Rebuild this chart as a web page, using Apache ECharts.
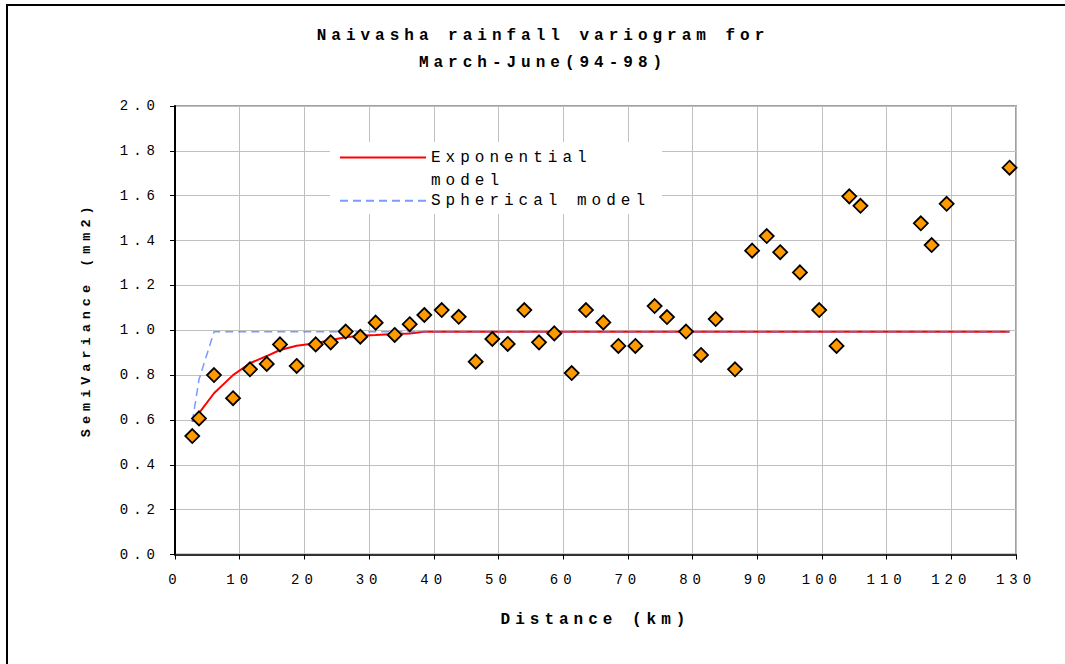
<!DOCTYPE html>
<html>
<head>
<meta charset="utf-8">
<script src="https://cdn.jsdelivr.net/npm/echarts@6.0.0/dist/echarts.min.js"></script>
<style>
  html, body { margin: 0; padding: 0; background: #fff; }
  #chart { width: 1065px; height: 664px; letter-spacing: 5px; }
</style>
</head>
<body>
<div id="chart"></div>
<script>
// Observed semivariance
const distance = [2.67, 3.71, 6.03, 8.97, 11.59, 14.18, 16.23, 18.81, 21.75, 24.07, 26.39, 28.64, 31.02, 33.96, 36.28, 38.54, 41.23, 43.86, 46.48, 49.05, 51.43, 54.0, 56.27, 58.63, 61.32, 63.53, 66.21, 68.53, 71.16, 74.14, 76.05, 78.99, 81.31, 83.58, 86.57, 89.21, 91.47, 93.55, 96.6, 99.58, 102.26, 104.23, 105.96, 115.29, 116.96, 119.28, 129.0];
const semivariance = [0.528, 0.607, 0.800, 0.697, 0.826, 0.850, 0.937, 0.841, 0.937, 0.946, 0.994, 0.971, 1.034, 0.979, 1.027, 1.068, 1.090, 1.060, 0.860, 0.961, 0.939, 1.090, 0.946, 0.986, 0.809, 1.090, 1.035, 0.930, 0.930, 1.108, 1.059, 0.994, 0.890, 1.050, 0.826, 1.355, 1.420, 1.348, 1.258, 1.090, 0.930, 1.597, 1.555, 1.477, 1.380, 1.564, 1.725];

// Exponential model
const expDistance = [2.67, 3.71, 6.03, 8.97, 11.59, 14.18, 16.23, 18.81, 21.75, 24.07, 26.39, 28.64, 31.02, 33.96, 36.28, 38.54, 129.0];
const expValue = [0.592, 0.63, 0.719, 0.80, 0.853, 0.885, 0.912, 0.931, 0.942, 0.957, 0.969, 0.976, 0.979, 0.983, 0.986, 0.993, 0.993];

// Spherical model
const sphDistance = [2.67, 3.71, 6.03, 129.0];
const sphValue = [0.592, 0.78, 0.993, 0.993];

const xTicks = [0, 10, 20, 30, 40, 50, 60, 70, 80, 90, 100, 110, 120, 130];
const yTicks = [0.0, 0.2, 0.4, 0.6, 0.8, 1.0, 1.2, 1.4, 1.6, 1.8, 2.0];

const titleText = 'Naivasha rainfall variogram for\nMarch-June(94-98)';
const xName = 'Distance (km)';
const yName = 'SemiVariance (mm2)';
const expName = 'Exponential model';
const sphName = 'Spherical model';

const zip = (a, b) => a.map((v, i) => [v, b[i]]);
const FONT = '"Liberation Mono", "DejaVu Sans Mono", monospace';

const chart = echarts.init(document.getElementById('chart'), null, { renderer: 'svg' });
chart.setOption({
  animation: false,
  backgroundColor: '#fff',
  title: {
    text: titleText,
    left: 538,
    top: 17,
    textAlign: 'center',
    textStyle: { fontFamily: FONT, fontWeight: 'bold', fontSize: 16, lineHeight: 27, color: '#000' }
  },
  graphic: [
    { type: 'rect', z: 0, silent: true, shape: { x: 7, y: 5, width: 1200, height: 1000 },
      style: { fill: 'none', stroke: '#000', lineWidth: 2 } },
    { type: 'rect', z: 3, silent: true, shape: { x: 330, y: 142, width: 332, height: 72 },
      style: { fill: '#fff', stroke: 'none' } }
  ],
  legend: [
    {
      data: [expName], left: 339, top: 122, padding: 0, itemWidth: 86, itemHeight: 14, z: 5,
      itemStyle: { opacity: 0 },
      formatter: () => ' \nExponential\nmodel',
      textStyle: { fontFamily: FONT, fontSize: 16, lineHeight: 23.7, color: '#000' }
    },
    {
      data: [sphName], left: 339, top: 189, padding: 0, itemWidth: 86, itemHeight: 14, z: 5,
      itemStyle: { opacity: 0 },
      textStyle: { fontFamily: FONT, fontSize: 16, lineHeight: 23.7, color: '#000' }
    }
  ],
  grid: {
    left: 175, right: 49, top: 106, bottom: 109.5,
    show: true, borderColor: '#a0a0a0', borderWidth: 2, backgroundColor: 'transparent'
  },
  xAxis: {
    type: 'value', min: xTicks[0], max: xTicks[xTicks.length - 1], interval: 10,
    name: xName, nameLocation: 'middle', nameGap: 57,
    nameTextStyle: { fontFamily: FONT, fontWeight: 'bold', fontSize: 16, color: '#000' },
    axisLine: { show: true, onZero: false, lineStyle: { color: '#333', width: 2 } },
    axisTick: { show: true, inside: false, length: 5, lineStyle: { color: '#000', width: 1 } },
    axisLabel: { margin: 18.5, interval: 0, fontFamily: FONT, fontSize: 14, color: '#000',
      formatter: v => String(v) },
    splitLine: { show: true, lineStyle: { color: '#c0c0c0', width: 1 } }
  },
  yAxis: {
    type: 'value', min: yTicks[0], max: yTicks[yTicks.length - 1], interval: 0.2,
    name: yName, nameLocation: 'middle', nameGap: 82,
    nameTextStyle: { fontFamily: FONT, fontWeight: 'bold', fontSize: 13.5, color: '#000',
      padding: [0, 0, 0, 22] },
    axisLine: { show: true, onZero: false, lineStyle: { color: '#000', width: 2 } },
    axisTick: { show: true, inside: false, length: 5, lineStyle: { color: '#000', width: 1 } },
    axisLabel: { margin: 15, fontFamily: FONT, fontSize: 14, color: '#000',
      formatter: v => v.toFixed(1) },
    splitLine: { show: true, lineStyle: { color: '#c0c0c0', width: 1 } }
  },
  series: [
    {
      name: expName, type: 'line', data: zip(expDistance, expValue), symbol: 'none', z: 2,
      lineStyle: { color: '#ff0000', width: 2, type: 'solid' }, itemStyle: { color: '#ff0000' }
    },
    {
      name: sphName, type: 'line', data: zip(sphDistance, sphValue), symbol: 'none', z: 3,
      lineStyle: { color: 'rgba(80,120,255,0.75)', width: 1.5, type: [8, 5] },
      itemStyle: { color: 'rgba(80,120,255,0.75)' }
    },
    {
      name: 'Observed', type: 'scatter', data: zip(distance, semivariance), z: 6,
      symbol: 'diamond', symbolSize: 14,
      itemStyle: { color: '#ff9900', borderColor: '#000', borderWidth: 1.8, opacity: 1 }
    }
  ]
});
</script>
</body>
</html>
